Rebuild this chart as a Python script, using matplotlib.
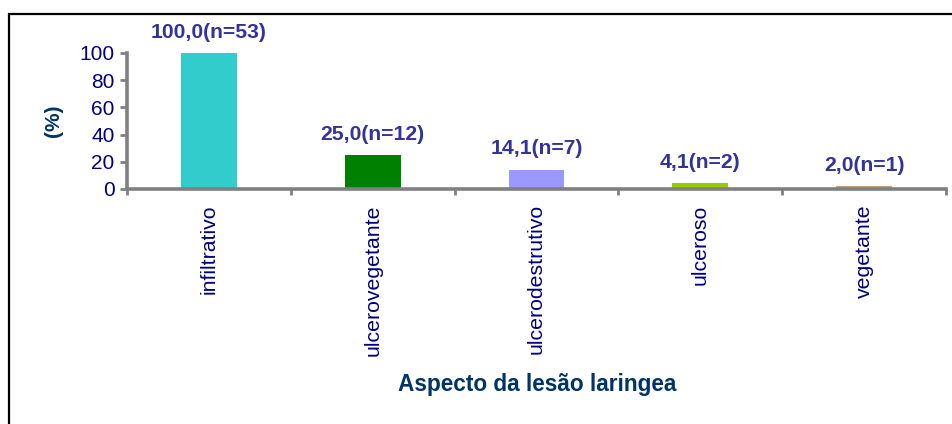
import matplotlib
matplotlib.use("Agg")
import matplotlib.pyplot as plt
from matplotlib.patches import Rectangle

categories = ["infiltrativo", "ulcerovegetante", "ulcerodestrutivo", "ulceroso", "vegetante"]
values = [100.0, 25.0, 14.1, 4.1, 2.0]
counts = [53, 12, 7, 2, 1]
bar_colors = ["#33CCCC", "#008000", "#9999FF", "#99CC00", "#C8A27A"]
yticks = [0, 20, 40, 60, 80, 100]

plt.rcParams['font.family'] = ['Liberation Sans', 'DejaVu Sans']

W, H = 952, 424
fig = plt.figure(figsize=(W / 100, H / 100), dpi=100)
ax = fig.add_axes([127 / W, 1 - 189 / H, (946 - 127) / W, (189 - 53) / H])

x = list(range(len(categories)))
ax.bar(x, values, width=0.34, color=bar_colors, zorder=1)

ax.set_xlim(-0.5, len(categories) - 0.5)
ax.set_ylim(0, 100)

for s in ["top", "right"]:
    ax.spines[s].set_visible(False)
for s in ["left", "bottom"]:
    ax.spines[s].set_color("#808080")
    ax.spines[s].set_linewidth(2.6)
    ax.spines[s].set_zorder(3)

ax.set_yticks(yticks)
ax.set_yticklabels([str(v) for v in yticks], fontsize=15, color="#000080")
ax.tick_params(axis="y", direction="out", length=5, width=2, color="#808080", pad=4)

bounds = [i - 0.5 for i in range(len(categories) + 1)]
ax.set_xticks(bounds)
ax.set_xticklabels([""] * len(bounds))
ax.tick_params(axis="x", which="major", direction="out", length=4, width=2, color="#808080")
ax.set_xticks(x, minor=True)
ax.set_xticklabels(categories, minor=True, rotation=90, fontsize=15.3, color="#000080")
ax.tick_params(axis="x", which="minor", length=0, pad=11)

for xi, v, n in zip(x, values, counts):
    lbl = f"{v:.1f}".replace(".", ",") + f"(n={n})"
    ax.annotate(lbl, (xi, v), xytext=(0, 15), textcoords="offset points",
                ha="center", va="center", fontsize=15.2, fontweight="bold",
                color="#333399", annotation_clip=False)

fig.text(53 / W, 1 - 121 / H, "(%)", rotation=90, ha="center", va="center",
         fontsize=15, fontweight="bold", color="#003366")
fig.text(537 / W, 1 - 385 / H, "Aspecto da lesão laringea", ha="center", va="center",
         fontsize=16.3, fontweight="bold", color="#003366")

frame = Rectangle((8.5 / W, -0.2), 1.2, 1 - 13.5 / H + 0.2, transform=fig.transFigure,
                  fill=False, edgecolor="black", linewidth=1.6, clip_on=False)
fig.patches.append(frame)

fig.savefig("out.png", dpi=100)
